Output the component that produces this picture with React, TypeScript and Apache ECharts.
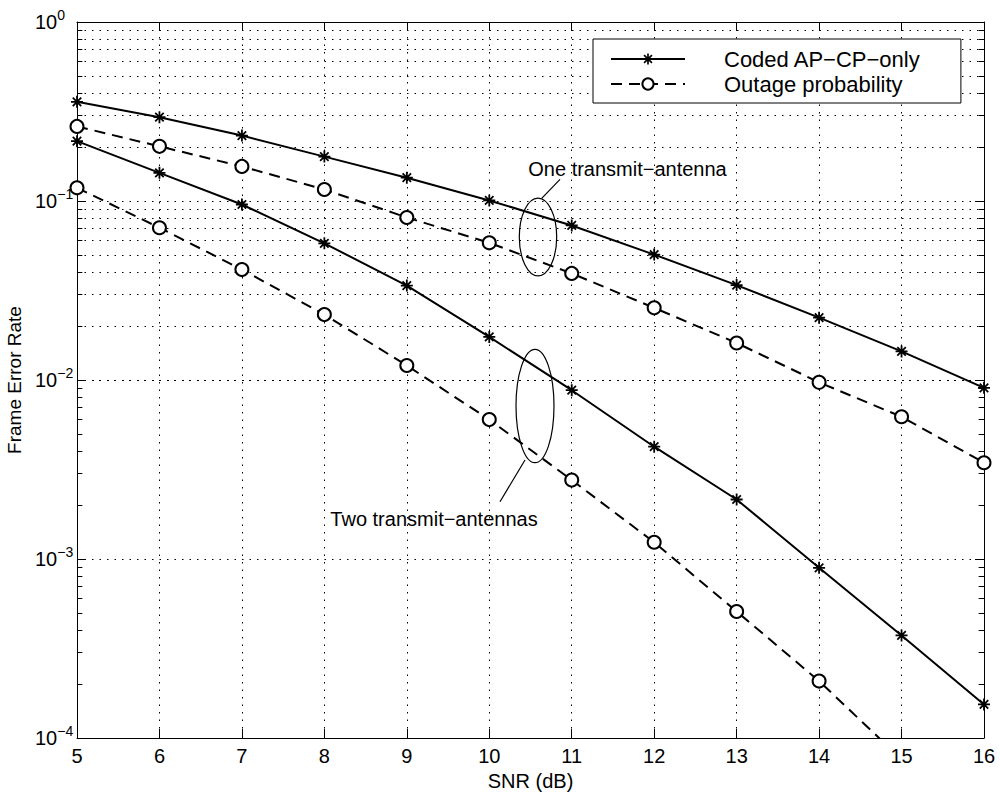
import React, { useEffect, useRef } from "react";
import * as echarts from "echarts";

const snr = [5, 6, 7, 8, 9, 10, 11, 12, 13, 14, 15, 16];
const codedOne = [0.358, 0.294, 0.232, 0.177, 0.135, 0.1007, 0.073, 0.0502, 0.0339, 0.0223, 0.01445, 0.00904];
const outageOne = [0.261, 0.202, 0.156, 0.116, 0.0809, 0.0584, 0.0394, 0.0253, 0.0161, 0.0097, 0.00623, 0.00345];
const codedTwo = [0.216, 0.1437, 0.0956, 0.058, 0.0337, 0.0174, 0.00877, 0.00424, 0.00215, 0.000893, 0.000374, 0.000154];
const outageTwo = [0.1185, 0.0709, 0.0414, 0.0232, 0.01205, 0.00601, 0.00276, 0.00124, 0.000509, 0.000208, 0.000076];

const legendCoded = "Coded AP\u2212CP\u2212only";
const legendOutage = "Outage probability";
const yAxisTitle = "Frame Error Rate";
const xAxisTitle = "SNR (dB)";
const noteOne = "One transmit\u2212antenna";
const noteTwo = "Two transmit\u2212antennas";

const decades = [-4, -3, -2, -1];
const mantissas = [2, 3, 4, 5, 6, 7, 8, 9];

const FONT = "Liberation Sans, Arial, Helvetica, sans-serif";

const STAR =
  "path://M-1,-0.15L1,-0.15L1,0.15L-1,0.15Z" +
  "M-0.15,-1L0.15,-1L0.15,1L-0.15,1Z" +
  "M-0.6,-0.81L0.81,0.6L0.6,0.81L-0.81,-0.6Z" +
  "M-0.81,0.6L0.6,-0.81L0.81,-0.6L-0.6,0.81Z";

function pairs(ys: number[]) {
  return ys.map((v, i) => [snr[i], v]);
}

export default function App() {
  const ref = useRef<HTMLDivElement>(null);
  useEffect(() => {
    if (!ref.current) return;
    const chart = echarts.init(ref.current, null, { renderer: "svg" });

    const minorVals: number[] = [];
    decades.forEach((d) => mantissas.forEach((m) => minorVals.push(m * Math.pow(10, d))));

    const dotted = { color: "#000", width: 1, type: [1.5, 6] as any };

    const starSeries = (data: number[]) => ({
      name: legendCoded,
      type: "line",
      data: pairs(data),
      symbol: STAR,
      symbolSize: 12,
      showAllSymbol: true,
      clip: true,
      z: 3,
      lineStyle: { color: "#000", width: 2, type: "solid" },
      itemStyle: { color: "#000" },
    });
    const circleSeries = (data: number[]) => ({
      name: legendOutage,
      type: "line",
      data: pairs(data),
      symbol: "circle",
      symbolSize: 13,
      showAllSymbol: true,
      clip: true,
      z: 3,
      lineStyle: { color: "#000", width: 2, type: [11, 7] },
      itemStyle: { color: "#fff", borderColor: "#000", borderWidth: 2 },
    });

    const option: any = {
      animation: false,
      backgroundColor: "#fff",
      textStyle: { fontFamily: FONT },
      grid: { left: 77, top: 22, width: 907, height: 716, show: false, containLabel: false, outerBoundsMode: "none" },
      legend: {
        left: 593,
        top: 39,
        orient: "vertical",
        data: [legendCoded, legendOutage],
        itemWidth: 74,
        itemHeight: 14,
        itemGap: 3,
        padding: [9, 40, 8, 17],
        borderColor: "#000",
        borderWidth: 1,
        backgroundColor: "#fff",
        z: 10,
        selectedMode: false,
        textStyle: { fontSize: 22, fontFamily: FONT, color: "#000", padding: [0, 0, 0, 34] },
      },
      xAxis: [
        {
          type: "value",
          min: 5,
          max: 16,
          interval: 1,
          position: "bottom",
          name: xAxisTitle,
          nameLocation: "middle",
          nameGap: 30,
          nameTextStyle: { fontSize: 20, color: "#000", fontFamily: FONT },
          axisLine: { show: true, onZero: false, lineStyle: { color: "#000", width: 1 } },
          axisTick: { show: true, inside: true, length: 9, lineStyle: { color: "#000" } },
          axisLabel: { fontSize: 20, color: "#000", margin: 8, fontFamily: FONT },
          splitLine: { show: true, lineStyle: dotted },
        },
        {
          type: "value",
          min: 5,
          max: 16,
          interval: 1,
          position: "top",
          axisLine: { show: true, onZero: false, lineStyle: { color: "#000", width: 1 } },
          axisTick: { show: true, inside: true, length: 9, lineStyle: { color: "#000" } },
          axisLabel: { show: false },
          splitLine: { show: false },
        },
      ],
      yAxis: [
        {
          type: "log",
          logBase: 10,
          min: 0.0001,
          max: 1,
          position: "left",
          name: yAxisTitle,
          nameLocation: "middle",
          nameGap: 38,
          nameTextStyle: { fontSize: 19, color: "#000", fontFamily: FONT },
          axisLine: { show: true, onZero: false, lineStyle: { color: "#000", width: 1 } },
          axisTick: { show: true, inside: true, length: 9, lineStyle: { color: "#000" } },
          axisLabel: {
            color: "#000",
            margin: 42,
            align: "left",
            formatter: (v: number) => {
              const e = Math.round(Math.log10(v));
              const s = e < 0 ? "\u2212" + -e : String(e);
              return "{b|10}{e|" + s + "}";
            },
            rich: {
              b: { fontSize: 20, fontFamily: FONT, color: "#000" },
              e: { fontSize: 14, fontFamily: FONT, color: "#000", padding: [0, 0, 14, 0] },
            },
          },
          splitLine: { show: true, lineStyle: dotted },
        },
        {
          type: "log",
          logBase: 10,
          min: 0.0001,
          max: 1,
          position: "right",
          axisLine: { show: true, onZero: false, lineStyle: { color: "#000", width: 1 } },
          axisTick: { show: true, inside: true, length: 9, lineStyle: { color: "#000" } },
          axisLabel: { show: false },
          splitLine: { show: false },
        },
      ],
      series: [
        {
          name: "minor-grid",
          type: "line",
          data: [],
          z: 1,
          silent: true,
          markLine: {
            silent: true,
            z: 1,
            symbol: ["none", "none"],
            label: { show: false },
            lineStyle: dotted,
            emphasis: { disabled: true },
            data: minorVals.map((v) => ({ yAxis: v })),
          },
        },
        {
          name: "minor-ticks",
          type: "line",
          data: [],
          z: 1,
          silent: true,
          markLine: {
            silent: true,
            z: 2,
            symbol: ["none", "none"],
            label: { show: false },
            lineStyle: { color: "#000", width: 1, type: "solid" },
            emphasis: { disabled: true },
            data: [
              ...minorVals.map((v) => [{ coord: [5, v] }, { coord: [5.065, v] }]),
              ...minorVals.map((v) => [{ coord: [15.935, v] }, { coord: [16, v] }]),
            ],
          },
        },
        starSeries(codedOne),
        circleSeries(outageOne),
        starSeries(codedTwo),
        circleSeries(outageTwo),
      ],
      graphic: [
        { type: "ellipse", shape: { cx: 538, cy: 237, rx: 18.7, ry: 38.8 }, style: { fill: "none", stroke: "#000", lineWidth: 1.2 }, z: 5 },
        { type: "line", shape: { x1: 541.7, y1: 198.3, x2: 560, y2: 179.3 }, style: { stroke: "#000", lineWidth: 1.2 }, z: 5 },
        { type: "ellipse", shape: { cx: 535, cy: 406, rx: 19, ry: 56.7 }, style: { fill: "none", stroke: "#000", lineWidth: 1.2 }, z: 5 },
        { type: "line", shape: { x1: 525, y1: 460, x2: 500, y2: 501.7 }, style: { stroke: "#000", lineWidth: 1.2 }, z: 5 },
        {
          type: "text",
          x: 627.5,
          y: 169.3,
          z: 5,
          style: { text: noteOne, font: "20px Liberation Sans, Arial, sans-serif", fill: "#000", align: "center", verticalAlign: "middle" },
        },
        {
          type: "text",
          x: 434,
          y: 519,
          z: 5,
          style: { text: noteTwo, font: "20px Liberation Sans, Arial, sans-serif", fill: "#000", align: "center", verticalAlign: "middle" },
        },
      ],
    };
    chart.setOption(option);
    return () => chart.dispose();
  }, []);
  return (
    <div
      ref={ref}
      style={{ position: "fixed", left: 0, top: 0, width: 1000, height: 798, background: "#fff" }}
    />
  );
}
